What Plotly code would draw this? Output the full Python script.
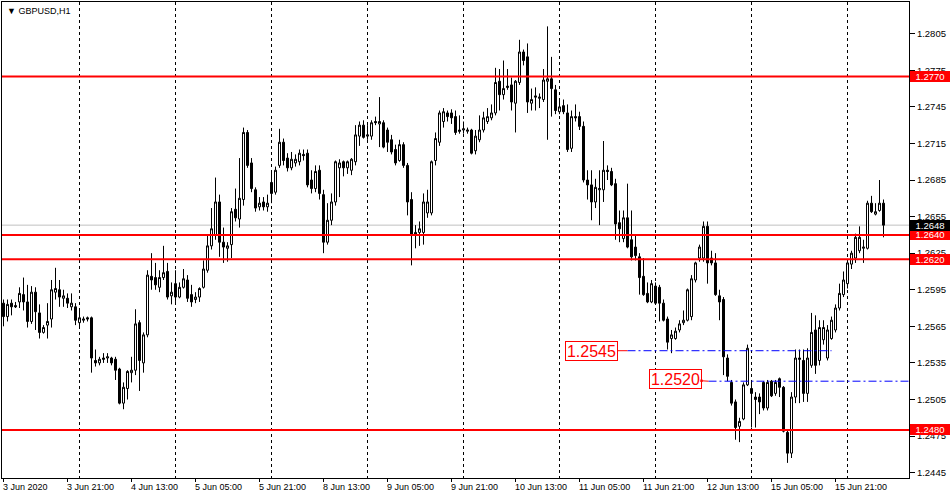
import plotly.graph_objects as go

# ---------------- data (GBPUSD H1, one value per bar) ----------------
open_ = [1.2584,1.2573,1.2584,1.2582,1.2585,1.2591,1.2585,1.2569,1.2593,1.2576,
         1.2560,1.2566,1.2571,1.2593,1.2595,1.2588,1.2588,1.2581,1.2581,1.2568,
         1.2570,1.2572,1.2572,1.2537,1.2535,1.2539,1.2539,1.2539,1.2538,1.2530,
         1.2502,1.2514,1.2527,1.2529,1.2568,1.2535,1.2558,1.2606,1.2605,1.2597,
         1.2605,1.2610,1.2590,1.2600,1.2589,1.2597,1.2603,1.2591,1.2587,1.2589,
         1.2597,1.2611,1.2631,1.2640,1.2667,1.2634,1.2629,1.2632,1.2661,1.2653,
         1.2669,1.2724,1.2699,1.2677,1.2663,1.2667,1.2663,1.2683,1.2675,1.2697,
         1.2716,1.2703,1.2695,1.2699,1.2700,1.2706,1.2707,1.2685,1.2678,1.2693,
         1.2673,1.2634,1.2652,1.2667,1.2695,1.2700,1.2695,1.2693,1.2700,1.2721,
         1.2730,1.2721,1.2721,1.2733,1.2731,1.2732,1.2726,1.2718,1.2710,1.2701,
         1.2714,1.2697,1.2669,1.2640,1.2642,1.2642,1.2658,1.2658,1.2701,1.2716,
         1.2733,1.2740,1.2740,1.2737,1.2726,1.2726,1.2725,1.2726,1.2709,1.2718,
         1.2726,1.2733,1.2736,1.2740,1.2766,1.2755,1.2762,1.2763,1.2748,1.2765,
         1.2790,1.2786,1.2748,1.2754,1.2752,1.2751,1.2766,1.2768,1.2759,1.2741,
         1.2746,1.2740,1.2711,1.2737,1.2737,1.2729,1.2685,1.2681,1.2667,1.2677,
         1.2677,1.2693,1.2692,1.2682,1.2650,1.2637,1.2654,1.2636,1.2630,1.2622,
         1.2606,1.2592,1.2585,1.2598,1.2597,1.2584,1.2571,1.2555,1.2555,1.2562,
         1.2568,1.2570,1.2573,1.2603,1.2621,1.2621,1.2647,1.2621,1.2617,1.2590,
         1.2587,1.2539,1.2519,1.2503,1.2483,1.2489,1.2517,1.2514,1.2507,1.2507,
         1.2519,1.2498,1.2520,1.2510,1.2522,1.2515,1.2478,1.2461,1.2507,1.2539,
         1.2537,1.2510,1.2533,1.2562,1.2537,1.2554,1.2539,1.2555,1.2562,1.2580,
         1.2591,1.2600,1.2616,1.2621,1.2627,1.2629,1.2629,1.2666,1.2657,1.2660,
         1.2666]
high = [1.2587,1.2587,1.2587,1.2585,1.2597,1.2605,1.2599,1.2598,1.2597,1.2583,
        1.2566,1.2584,1.2603,1.2613,1.2603,1.2595,1.2592,1.2592,1.2584,1.2578,
        1.2573,1.2573,1.2573,1.2546,1.2540,1.2543,1.2543,1.2540,1.2540,1.2531,
        1.2519,1.2529,1.2540,1.2579,1.2570,1.2560,1.2611,1.2625,1.2617,1.2611,
        1.2631,1.2617,1.2601,1.2611,1.2601,1.2612,1.2607,1.2599,1.2593,1.2597,
        1.2619,1.2640,1.2662,1.2687,1.2673,1.2646,1.2634,1.2662,1.2678,1.2703,
        1.2728,1.2726,1.2703,1.2679,1.2671,1.2671,1.2673,1.2693,1.2696,1.2727,
        1.2719,1.2707,1.2708,1.2706,1.2710,1.2710,1.2710,1.2693,1.2697,1.2697,
        1.2677,1.2666,1.2674,1.2701,1.2702,1.2701,1.2701,1.2703,1.2730,1.2733,
        1.2734,1.2730,1.2734,1.2737,1.2753,1.2734,1.2728,1.2722,1.2714,1.2718,
        1.2716,1.2699,1.2675,1.2648,1.2651,1.2674,1.2677,1.2701,1.2724,1.2742,
        1.2744,1.2742,1.2743,1.2742,1.2738,1.2733,1.2728,1.2727,1.2726,1.2738,
        1.2741,1.2744,1.2747,1.2777,1.2776,1.2783,1.2776,1.2769,1.2767,1.2800,
        1.2792,1.2797,1.2760,1.2761,1.2756,1.2776,1.2811,1.2786,1.2763,1.2751,
        1.2751,1.2747,1.2742,1.2747,1.2741,1.2733,1.2693,1.2693,1.2686,1.2693,
        1.2717,1.2697,1.2695,1.2686,1.2660,1.2660,1.2682,1.2660,1.2640,1.2625,
        1.2621,1.2601,1.2603,1.2601,1.2599,1.2587,1.2573,1.2562,1.2564,1.2570,
        1.2578,1.2596,1.2607,1.2618,1.2632,1.2651,1.2651,1.2627,1.2625,1.2595,
        1.2589,1.2542,1.2521,1.2505,1.2490,1.2519,1.2550,1.2521,1.2511,1.2510,
        1.2520,1.2521,1.2521,1.2521,1.2523,1.2516,1.2480,1.2511,1.2546,1.2546,
        1.2546,1.2547,1.2576,1.2574,1.2570,1.2570,1.2566,1.2573,1.2583,1.2600,
        1.2610,1.2619,1.2627,1.2641,1.2647,1.2636,1.2668,1.2672,1.2666,1.2685,
        1.2669]
low = [1.2565,1.2569,1.2574,1.2580,1.2580,1.2578,1.2564,1.2567,1.2562,1.2555,
       1.2559,1.2555,1.2564,1.2587,1.2581,1.2581,1.2580,1.2578,1.2566,1.2565,
       1.2568,1.2569,1.2527,1.2532,1.2533,1.2535,1.2535,1.2533,1.2521,1.2501,
       1.2497,1.2505,1.2519,1.2525,1.2512,1.2527,1.2556,1.2595,1.2595,1.2593,
       1.2603,1.2587,1.2583,1.2585,1.2588,1.2596,1.2585,1.2581,1.2584,1.2585,
       1.2596,1.2609,1.2628,1.2636,1.2622,1.2617,1.2618,1.2621,1.2651,1.2646,
       1.2664,1.2695,1.2675,1.2659,1.2660,1.2660,1.2659,1.2666,1.2673,1.2695,
       1.2697,1.2692,1.2693,1.2696,1.2697,1.2701,1.2679,1.2674,1.2675,1.2669,
       1.2625,1.2632,1.2648,1.2664,1.2671,1.2688,1.2690,1.2689,1.2697,1.2713,
       1.2719,1.2718,1.2718,1.2730,1.2712,1.2711,1.2708,1.2706,1.2697,1.2700,
       1.2695,1.2656,1.2615,1.2629,1.2631,1.2632,1.2654,1.2656,1.2697,1.2713,
       1.2728,1.2733,1.2731,1.2722,1.2723,1.2723,1.2723,1.2706,1.2706,1.2716,
       1.2724,1.2731,1.2734,1.2738,1.2742,1.2751,1.2759,1.2742,1.2724,1.2763,
       1.2779,1.2740,1.2742,1.2742,1.2744,1.2749,1.2718,1.2737,1.2739,1.2739,
       1.2739,1.2708,1.2708,1.2733,1.2726,1.2683,1.2669,1.2652,1.2662,1.2648,
       1.2667,1.2685,1.2680,1.2636,1.2634,1.2634,1.2629,1.2619,1.2619,1.2591,
       1.2590,1.2584,1.2584,1.2583,1.2569,1.2569,1.2546,1.2543,1.2554,1.2560,
       1.2566,1.2569,1.2570,1.2601,1.2618,1.2618,1.2600,1.2615,1.2590,1.2570,
       1.2525,1.2520,1.2500,1.2472,1.2470,1.2488,1.2516,1.2482,1.2482,1.2493,
       1.2496,1.2496,1.2507,1.2508,1.2507,1.2478,1.2453,1.2457,1.2502,1.2502,
       1.2503,1.2503,1.2531,1.2526,1.2533,1.2550,1.2537,1.2554,1.2560,1.2578,
       1.2589,1.2596,1.2612,1.2617,1.2625,1.2617,1.2628,1.2658,1.2656,1.2659,
       1.2638]
close = [1.2573,1.2583,1.2581,1.2581,1.2592,1.2585,1.2569,1.2593,1.2577,1.2560,
         1.2564,1.2569,1.2595,1.2596,1.2589,1.2590,1.2584,1.2584,1.2570,1.2572,
         1.2571,1.2571,1.2539,1.2535,1.2538,1.2538,1.2540,1.2535,1.2529,1.2502,
         1.2515,1.2528,1.2529,1.2567,1.2537,1.2558,1.2607,1.2603,1.2599,1.2605,
         1.2609,1.2589,1.2593,1.2589,1.2597,1.2604,1.2588,1.2585,1.2589,1.2596,
         1.2612,1.2631,1.2645,1.2667,1.2634,1.2630,1.2631,1.2659,1.2654,1.2670,
         1.2724,1.2697,1.2678,1.2662,1.2666,1.2663,1.2666,1.2674,1.2693,1.2716,
         1.2701,1.2695,1.2702,1.2702,1.2707,1.2705,1.2681,1.2678,1.2692,1.2674,
         1.2634,1.2652,1.2667,1.2700,1.2699,1.2695,1.2700,1.2702,1.2722,1.2730,
         1.2720,1.2722,1.2732,1.2732,1.2733,1.2712,1.2716,1.2708,1.2699,1.2714,
         1.2697,1.2667,1.2640,1.2642,1.2645,1.2667,1.2667,1.2700,1.2719,1.2740,
         1.2741,1.2737,1.2736,1.2724,1.2725,1.2727,1.2726,1.2707,1.2721,1.2726,
         1.2736,1.2737,1.2740,1.2765,1.2755,1.2760,1.2761,1.2749,1.2766,1.2790,
         1.2783,1.2749,1.2751,1.2753,1.2753,1.2767,1.2768,1.2760,1.2742,1.2745,
         1.2741,1.2710,1.2737,1.2736,1.2729,1.2685,1.2681,1.2667,1.2679,1.2678,
         1.2693,1.2692,1.2681,1.2649,1.2645,1.2654,1.2630,1.2622,1.2623,1.2605,
         1.2591,1.2585,1.2600,1.2584,1.2584,1.2570,1.2552,1.2558,1.2561,1.2567,
         1.2570,1.2595,1.2604,1.2617,1.2630,1.2647,1.2617,1.2617,1.2591,1.2585,
         1.2540,1.2524,1.2502,1.2482,1.2487,1.2517,1.2547,1.2510,1.2505,1.2503,
         1.2498,1.2519,1.2508,1.2519,1.2515,1.2479,1.2461,1.2507,1.2539,1.2538,
         1.2510,1.2539,1.2560,1.2533,1.2564,1.2564,1.2562,1.2570,1.2580,1.2592,
         1.2603,1.2617,1.2625,1.2638,1.2638,1.2630,1.2666,1.2659,1.2659,1.2666,
         1.2648]

symbol_title = "GBPUSD,H1"
bars = list(range(len(close)))

# time-axis labels (bar index -> text), day separators (bar index)
label_bars = [0, 16, 32, 48, 64, 80, 96, 112, 128, 144, 160, 176, 192, 208]
label_text = ["3 Jun 2020", "3 Jun 21:00", "4 Jun 13:00", "5 Jun 05:00", "5 Jun 21:00",
              "8 Jun 13:00", "9 Jun 05:00", "9 Jun 21:00", "10 Jun 13:00", "11 Jun 05:00",
              "11 Jun 21:00", "12 Jun 13:00", "15 Jun 05:00", "15 Jun 21:00"]
day_separators = [19, 43, 67, 91, 115, 139, 163, 187, 211]

# price axis ticks
price_ticks = [1.2805, 1.2775, 1.2745, 1.2715, 1.2685, 1.2655, 1.2625, 1.2595,
               1.2565, 1.2535, 1.2505, 1.2475, 1.2445]

# horizontal levels
red_levels = [1.2770, 1.2640, 1.2620, 1.2480]
bid_price = 1.2648
target_levels = [1.2545, 1.2520]
target_start = [156, 176.25]        # bar where each dash-dot line starts
target_end = [207, None]            # None -> to the right edge
target_box_offset = [-36, -33]      # label box offset (px) from line start

X_RANGE = [-0.375, 226.375]
Y_RANGE = [1.24406, 1.28310]

FONT = "Liberation Sans, Arial, sans-serif"

fig = go.Figure()
fig.add_trace(go.Candlestick(
    x=bars, open=open_, high=high, low=low, close=close,
    increasing=dict(line=dict(color="black", width=1), fillcolor="white"),
    decreasing=dict(line=dict(color="black", width=1), fillcolor="black"),
    whiskerwidth=0, hoverinfo="skip", showlegend=False,
))

shapes = []
# bid line
shapes.append(dict(type="line", xref="paper", x0=0, x1=1, yref="y", y0=bid_price, y1=bid_price,
                   line=dict(color="#C0C0C0", width=1), layer="below"))
for lv in red_levels:
    shapes.append(dict(type="line", xref="paper", x0=0, x1=1, yref="y", y0=lv, y1=lv,
                       line=dict(color="#FF0000", width=2)))
for lv, xs, xe in zip(target_levels, target_start, target_end):
    shapes.append(dict(type="line", xref="x", x0=xs, x1=(X_RANGE[1] if xe is None else xe),
                       yref="y", y0=lv, y1=lv,
                       line=dict(color="#0000FF", width=1, dash="8px,3px,2px,3px")))

annotations = []
# right-side price boxes
for lv in red_levels:
    annotations.append(dict(xref="paper", x=1, xanchor="left", xshift=1, yref="y", y=lv,
                            yanchor="middle", text=f"{lv:.4f}", showarrow=False,
                            bgcolor="#FF0000", font=dict(color="white", size=9.5, family=FONT),
                            width=40, height=11, borderpad=0, borderwidth=0, align="center"))
annotations.append(dict(xref="paper", x=1, xanchor="left", xshift=1, yref="y", y=bid_price,
                        yanchor="middle", text=f"{bid_price:.4f}", showarrow=False,
                        bgcolor="black", font=dict(color="white", size=9.5, family=FONT),
                        width=40, height=11, borderpad=0, borderwidth=0, align="center"))
# target labels
for k, (lv, xs, off) in enumerate(zip(target_levels, target_start, target_box_offset)):
    ann = dict(xref="x", x=xs, yref="y", y=lv, text=f"{lv:.4f}", showarrow=True,
               ax=off, ay=-2 if k == 1 else 0, arrowhead=0, arrowcolor="#FF0000", arrowwidth=1,
               bgcolor="white", bordercolor="#FF0000", borderwidth=1, borderpad=1,
               font=dict(color="#FF0000", size=16, family=FONT), width=49, height=16)
    if k == 1:
        ann.update(arrowside="start", startarrowhead=7, startarrowsize=0.6)
    annotations.append(ann)
# time labels
for b, t in zip(label_bars, label_text):
    annotations.append(dict(xref="x", x=b, xanchor="left", xshift=-3, yref="paper", y=0,
                            yanchor="top", yshift=-2, text=t, showarrow=False,
                            font=dict(color="black", size=9, family=FONT)))
# symbol title
annotations.append(dict(xref="paper", x=0, xanchor="left", xshift=3, yref="paper", y=1,
                        yanchor="top", yshift=-2, text="\u25BC " + symbol_title, showarrow=False,
                        font=dict(color="black", size=9, family=FONT)))

fig.update_layout(
    width=950, height=500,
    margin=dict(l=2, r=41, t=2, b=22),
    paper_bgcolor="white", plot_bgcolor="white",
    boxgap=0.5, boxgroupgap=0,
    shapes=shapes, annotations=annotations,
    showlegend=False,
    xaxis=dict(range=X_RANGE, rangeslider=dict(visible=False), showgrid=False, zeroline=False,
               showline=True, linecolor="black", linewidth=1, mirror=True,
               tickmode="array", tickvals=label_bars, showticklabels=False,
               ticks="outside", ticklen=3, tickcolor="black", tickwidth=1,
               minor=dict(tickmode="array", tickvals=day_separators, showgrid=True,
                          gridcolor="black", gridwidth=1, griddash="3px,3px", ticks="")),
    yaxis=dict(range=Y_RANGE, side="right", showgrid=False, zeroline=False,
               showline=True, linecolor="black", linewidth=1, mirror=True,
               tickmode="array", tickvals=price_ticks, ticktext=[f"{p:.4f}" for p in price_ticks],
               ticks="outside", ticklen=5, tickcolor="black",
               tickfont=dict(color="black", size=9.5, family=FONT)),
    hovermode=False,
)

fig.write_html(
    "out.html",
    config={"displayModeBar": False},
    post_script="document.body.style.margin='0px';document.body.style.overflow='hidden';",
)
